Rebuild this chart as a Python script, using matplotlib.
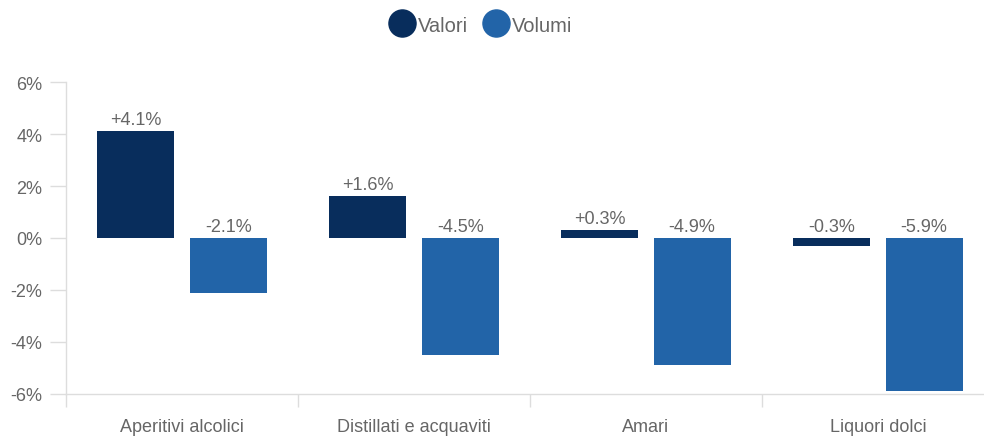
import matplotlib
matplotlib.use("Agg")
import matplotlib.pyplot as plt
from matplotlib.lines import Line2D
import numpy as np

plt.rcParams['font.family'] = ['Liberation Sans', 'DejaVu Sans']

categories = ["Aperitivi alcolici", "Distillati e acquaviti", "Amari", "Liquori dolci"]
valori = [4.1, 1.6, 0.3, -0.3]
volumi = [-2.1, -4.5, -4.9, -5.9]
series_names = ["Valori", "Volumi"]
colors = ["#082d5c", "#2264a8"]
yticks = [-6, -4, -2, 0, 2, 4, 6]

DPI = 100
fig = plt.figure(figsize=(9.84, 4.39), dpi=DPI)
W, H = 984, 439
left, right, top, bottom = 66, 994, 83, 395
ax = fig.add_axes([left / W, 1 - bottom / H, (right - left) / W, (bottom - top) / H])

x = np.arange(len(categories))
bw = 0.332
offs = [-0.199, 0.199]
txt = "#666666"
fs = 13

for vals, off, col in zip([valori, volumi], offs, colors):
    ax.bar(x + off, vals, width=bw, color=col, zorder=3)
    for xi, v in zip(x, vals):
        top_y = max(v, 0)
        ax.annotate(f"{v:+.1f}%" if v > 0 else f"{v:.1f}%",
                    xy=(xi + off, top_y), xytext=(0, 2.5), textcoords="offset points",
                    ha="center", va="bottom", fontsize=fs, color=txt)

ax.set_xlim(-0.5, len(categories) - 0.5)
ax.set_ylim(-6, 6)
ax.set_yticks(yticks)
ax.set_yticklabels([f"{t}%" for t in yticks])
ax.set_xticks(x)
ax.set_xticklabels(categories)
ax.set_xticks(np.arange(-0.5, len(categories) - 0.5, 1), minor=True)

grey = "#dddddd"
for s in ["top", "right"]:
    ax.spines[s].set_visible(False)
for s in ["left", "bottom"]:
    ax.spines[s].set_color(grey)
    ax.spines[s].set_linewidth(1)

ax.tick_params(axis="y", length=11.5, width=1, color=grey, pad=5.5, labelsize=fs, labelcolor=txt)
ax.tick_params(axis="x", which="major", length=0, pad=17, labelsize=fs, labelcolor=txt)
ax.tick_params(axis="x", which="minor", length=9.5, width=1, color=grey)

handles = [Line2D([], [], marker="o", linestyle="none", markersize=19.5, color=c) for c in colors]
fig.legend(handles, series_names, loc="center", bbox_to_anchor=(0.4853, 1 - 26 / H),
           ncol=2, frameon=False, fontsize=14.5, labelcolor=txt, handletextpad=-0.15,
           columnspacing=0.42, handlelength=1.9)

fig.savefig("out.png", dpi=DPI)
